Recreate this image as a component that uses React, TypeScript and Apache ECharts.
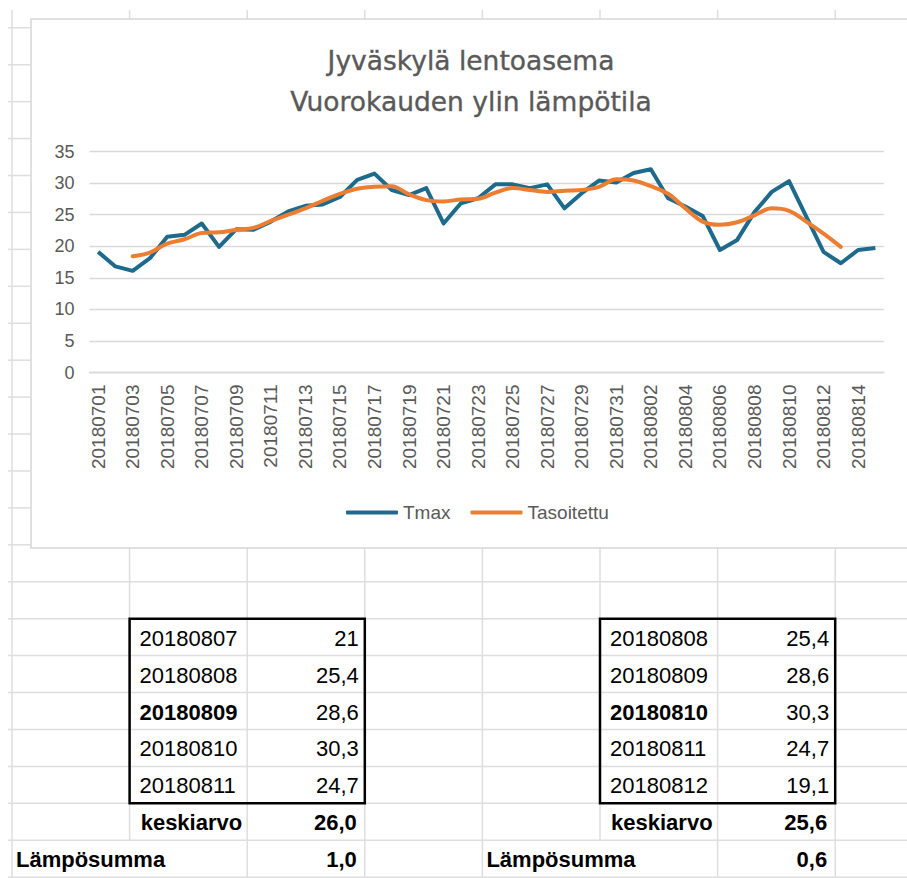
import React, { useEffect, useRef } from "react";
import * as echarts from "echarts";

const categories = [
  "20180701","20180702","20180703","20180704","20180705","20180706","20180707","20180708",
  "20180709","20180710","20180711","20180712","20180713","20180714","20180715","20180716",
  "20180717","20180718","20180719","20180720","20180721","20180722","20180723","20180724",
  "20180725","20180726","20180727","20180728","20180729","20180730","20180731","20180801",
  "20180802","20180803","20180804","20180805","20180806","20180807","20180808","20180809",
  "20180810","20180811","20180812","20180813","20180814","20180815",
];

const tmax = [
  19.1, 16.8, 16.1, 18.1, 21.5, 21.8, 23.6, 19.9, 22.7, 22.6, 23.9, 25.5, 26.4, 26.6, 27.8, 30.5,
  31.5, 28.9, 28.1, 29.2, 23.6, 26.8, 27.6, 29.8, 29.8, 29.2, 29.8, 26.0, 28.4, 30.4, 30.1, 31.6,
  32.2, 27.6, 26.3, 24.8, 19.4, 21.0, 25.4, 28.6, 30.3, 24.7, 19.1, 17.3, 19.4, 19.7,
];

const tasoitettu = [
  null, null, 18.4, 19.0, 20.4, 21.1, 22.1, 22.2, 22.6, 22.9, 24.0, 25.0, 26.0, 27.2, 28.3, 29.1,
  29.4, 29.5, 28.2, 27.3, 27.1, 27.4, 27.5, 28.5, 29.2, 28.9, 28.6, 28.8, 28.9, 29.4, 30.6, 30.4,
  29.5, 28.3, 26.0, 23.9, 23.4, 23.8, 24.9, 26.0, 25.6, 23.9, 22.0, 19.9, null, null,
];

const titleLines = ["Jyväskylä lentoasema", "Vuorokauden ylin lämpötila"];
const seriesNames = ["Tmax", "Tasoitettu"];

const leftTableDates = ["20180807", "20180808", "20180809", "20180810", "20180811"];
const leftTableValues = ["21", "25,4", "28,6", "30,3", "24,7"];
const rightTableDates = ["20180808", "20180809", "20180810", "20180811", "20180812"];
const rightTableValues = ["25,4", "28,6", "30,3", "24,7", "19,1"];
const averageLabel = "keskiarvo";
const sumLabel = "Lämpösumma";
const leftAverage = "26,0";
const rightAverage = "25,6";
const leftSum = "1,0";
const rightSum = "0,6";

const COLS = [12, 129.6, 247.2, 364.8, 482.4, 600, 717.6, 835.2];
const rowY = (k: number) => 27.8 + 36.93 * k;
const GRID_COLOR = "#dedede";
const CHART_TOP = 19;
const CHART_BOTTOM = 548;
const CHART_LEFT = 31;

function buildGraphics() {
  const els: any[] = [];
  const line = (x1: number, y1: number, x2: number, y2: number, color = GRID_COLOR, w = 1.5) =>
    els.push({ type: "line", silent: true, shape: { x1, y1, x2, y2 }, style: { stroke: color, lineWidth: w } });

  // spreadsheet gridlines
  line(COLS[0], 10, COLS[0], 878);
  for (let i = 1; i < COLS.length; i++) {
    line(COLS[i], 10, COLS[i], CHART_TOP);
    const hideLastRow = i === 1 || i === 5;
    line(COLS[i], CHART_BOTTOM, COLS[i], hideLastRow ? rowY(22) : 878);
  }
  for (let k = 0; k < 24; k++) {
    const y = rowY(k);
    if (y < CHART_BOTTOM) line(8, y, CHART_LEFT, y);
    else line(8, y, 907, y);
  }

  // chart frame
  els.push({
    type: "rect", silent: true,
    shape: { x: CHART_LEFT, y: CHART_TOP, width: 890, height: CHART_BOTTOM - CHART_TOP },
    style: { fill: "none", stroke: "#d6d6d6", lineWidth: 1.5 },
  });

  // title
  titleLines.forEach((t, i) => {
    els.push({
      type: "text", silent: true,
      style: {
        text: t, x: 471, y: 60 + i * 41, textAlign: "center", textVerticalAlign: "middle",
        font: "26.5px 'DejaVu Sans'", fill: "#595959",
        stroke: "#595959", lineWidth: 0.35,
      },
    });
  });

  const txt = (text: string, x: number, y: number, align: string, bold = false) =>
    els.push({
      type: "text", silent: true,
      style: {
        text, x, y, textAlign: align, textVerticalAlign: "middle",
        font: `${bold ? "bold " : ""}22px 'Liberation Sans'`, fill: "#000000",
      },
    });

  const table = (c: number, dates: string[], vals: string[], boldIdx: number) => {
    const x0 = COLS[c];
    const x1 = COLS[c + 2];
    const y0 = rowY(16);
    const y1 = rowY(21);
    dates.forEach((d, i) => {
      const yc = (rowY(16 + i) + rowY(17 + i)) / 2 + 1;
      txt(d, x0 + 10, yc, "left", i === boldIdx);
      txt(vals[i], x1 - 6, yc, "right");
    });
    els.push({
      type: "rect", silent: true,
      shape: { x: x0, y: y0, width: x1 - x0, height: y1 - y0 },
      style: { fill: "none", stroke: "#000000", lineWidth: 2.5 },
    });
  };
  table(1, leftTableDates, leftTableValues, 2);
  table(5, rightTableDates, rightTableValues, 2);

  const yAvg = (rowY(21) + rowY(22)) / 2 + 1;
  const ySum = (rowY(22) + rowY(23)) / 2 + 1;
  txt(averageLabel, COLS[2] - 5, yAvg, "right", true);
  txt(leftAverage, COLS[3] - 8, yAvg, "right", true);
  txt(sumLabel, COLS[0] + 4, ySum, "left", true);
  txt(leftSum, COLS[3] - 8, ySum, "right", true);
  txt(averageLabel, COLS[6] - 5, yAvg, "right", true);
  txt(rightAverage, COLS[7] - 8, yAvg, "right", true);
  txt(sumLabel, COLS[4] + 4, ySum, "left", true);
  txt(rightSum, COLS[7] - 8, ySum, "right", true);
  return els;
}

export default function App() {
  const ref = useRef<HTMLDivElement>(null);
  useEffect(() => {
    if (!ref.current) return;
    const chart = echarts.init(ref.current, undefined, { renderer: "svg" });
    const labelFont = { fontFamily: "Liberation Sans", fontSize: 18, color: "#595959" };
    chart.setOption({
      animation: false,
      backgroundColor: "#ffffff",
      legend: {
        data: seriesNames,
        left: 341,
        top: 498,
        itemWidth: 52,
        itemHeight: 4,
        itemGap: 20,
        icon: "roundRect",
        textStyle: { ...labelFont, fontSize: 19 },
      },
      grid: { left: 89.5, top: 151.5, width: 794.5, height: 221, containLabel: false },
      xAxis: {
        type: "category",
        data: categories,
        boundaryGap: true,
        axisLine: { show: true, lineStyle: { color: "#d9d9d9", width: 1.3 } },
        axisTick: { show: false },
        axisLabel: { ...labelFont, fontSize: 19, rotate: 90, interval: 1, margin: 12 },
        splitLine: { show: false },
      },
      yAxis: {
        type: "value",
        min: 0,
        max: 35,
        interval: 5,
        axisLine: { show: false },
        axisTick: { show: false },
        axisLabel: { ...labelFont, margin: 15 },
        splitLine: { lineStyle: { color: "#d9d9d9", width: 1.3 } },
      },
      series: [
        {
          name: seriesNames[0],
          type: "line",
          data: tmax,
          showSymbol: false,
          symbol: "none",
          color: "#1e6a8d",
          lineStyle: { width: 4, color: "#1e6a8d", join: "round" },
          z: 3,
        },
        {
          name: seriesNames[1],
          type: "line",
          data: tasoitettu,
          showSymbol: false,
          symbol: "none",
          smooth: 0.35,
          color: "#ed7d31",
          lineStyle: { width: 4, color: "#ed7d31", cap: "round" },
          z: 4,
        },
      ],
      graphic: { elements: buildGraphics() },
    });
    return () => chart.dispose();
  }, []);
  return (
    <div
      ref={ref}
      style={{ position: "absolute", left: 0, top: 0, width: 907, height: 878 }}
    />
  );
}
